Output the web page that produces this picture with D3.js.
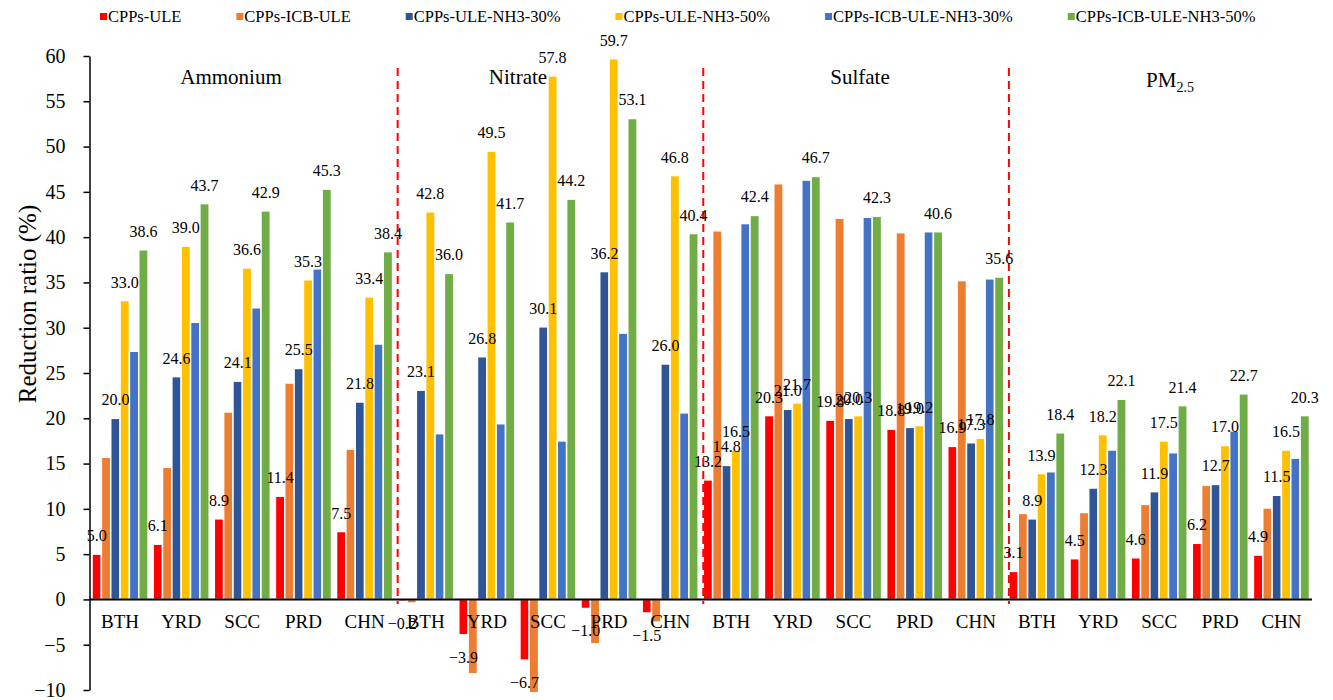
<!DOCTYPE html>
<html><head><meta charset="utf-8">
<script src="https://cdn.jsdelivr.net/npm/d3@7"></script>
<style>
body{margin:0;background:#fff}
svg{display:block}
</style>
</head><body>
<svg id="c" width="1333" height="700"></svg>
<script>
// ---------- data ----------
const regions = ["BTH","YRD","SCC","PRD","CHN"];
const species = ["Ammonium","Nitrate","Sulfate","PM2.5"];
const seriesNames = ["CPPs-ULE","CPPs-ICB-ULE","CPPs-ULE-NH3-30%","CPPs-ULE-NH3-50%","CPPs-ICB-ULE-NH3-30%","CPPs-ICB-ULE-NH3-50%"];
const seriesColors = ["#FF0000","#ED7D31","#2F5597","#FFC000","#4472C4","#70AD47"];
const labelledSeries = [0,2,3,5];
// values in order: Ammonium(BTH..CHN), Nitrate, Sulfate, PM2.5
const cppsULE        = [5.0,6.1,8.9,11.4,7.5,   -0.2,-3.9,-6.7,-1.0,-1.5,  13.2,20.3,19.8,18.8,16.9,  3.1,4.5,4.6,6.2,4.9];
const cppsICBULE     = [15.7,14.6,20.7,23.9,16.6, -0.4,-8.2,-10.3,-4.9,-2.5, 40.7,45.9,42.1,40.5,35.2, 9.5,9.6,10.5,12.6,10.1];
const ule_NH3_30     = [20.0,24.6,24.1,25.5,21.8, 23.1,26.8,30.1,36.2,26.0, 14.8,21.0,20.0,19.0,17.3, 8.9,12.3,11.9,12.7,11.5];
const ule_NH3_50     = [33.0,39.0,36.6,35.3,33.4, 42.8,49.5,57.8,59.7,46.8, 16.5,21.7,20.3,19.2,17.8, 13.9,18.2,17.5,17.0,16.5];
const icb_NH3_30     = [27.4,30.6,32.2,36.5,28.2, 18.3,19.4,17.5,29.4,20.6, 41.5,46.3,42.2,40.6,35.4, 14.1,16.5,16.2,18.6,15.6];
const icb_NH3_50     = [38.6,43.7,42.9,45.3,38.4, 36.0,41.7,44.2,53.1,40.4, 42.4,46.7,42.3,40.6,35.6, 18.4,22.1,21.4,22.7,20.3];
const seriesValues = [cppsULE,cppsICBULE,ule_NH3_30,ule_NH3_50,icb_NH3_30,icb_NH3_50];
const yTicks = d3.range(-10,61,5);
const yTitle = "Reduction ratio (%)";

// ---------- layout ----------
const FONT = "'Times New Roman','Liberation Serif',Tinos,serif";
const svg = d3.select("#c");
const xLeft = 89.5, xRight = 1312, yTop = 56, yBottom = 690;
const nCat = species.length*regions.length;
const catKeys = d3.range(nCat);
const xCat = d3.scaleBand().domain(catKeys).range([xLeft,xRight]).paddingInner(0.083).paddingOuter(0.0415);
const xSer = d3.scaleBand().domain(d3.range(seriesNames.length)).range([0,xCat.bandwidth()]);
const y = d3.scaleLinear().domain([-10,60]).range([yBottom,yTop]);

function txt(sel){ return sel.style("font-family",FONT).attr("fill","#000"); }

// bars
const barData = [];
seriesValues.forEach((vals,s)=>vals.forEach((v,c)=>barData.push({s,c,v})));
svg.append("g").selectAll("rect").data(barData).join("rect")
  .attr("x",d=>xCat(d.c)+xSer(d.s))
  .attr("width",xSer.bandwidth())
  .attr("y",d=>y(Math.max(0,d.v)))
  .attr("height",d=>Math.abs(y(d.v)-y(0)))
  .attr("fill",d=>seriesColors[d.s])
  .attr("stroke","#fff").attr("stroke-width",1.5);

// dashed dividers
svg.append("g").selectAll("line").data([1,2,3]).join("line")
  .attr("x1",k=>xCat(k*regions.length)).attr("x2",k=>xCat(k*regions.length))
  .attr("y1",68).attr("y2",604)
  .attr("stroke","#FF0000").attr("stroke-width",2).attr("stroke-dasharray","8,5");

// y axis
const yAxis = svg.append("g").attr("transform",`translate(${xLeft},0)`)
  .call(d3.axisLeft(y).tickValues(yTicks).tickSize(6).tickSizeOuter(0).tickPadding(18).tickFormat(d3.format("d")));
yAxis.attr("font-family",null).attr("font-size",null);
yAxis.select(".domain").attr("stroke","#000").attr("stroke-width",1.5);
yAxis.selectAll(".tick line").attr("stroke","#000").attr("stroke-width",1.5);
txt(yAxis.selectAll(".tick text")).attr("font-size",20);

// zero line
svg.append("line").attr("x1",xLeft).attr("x2",xRight).attr("y1",y(0)).attr("y2",y(0))
  .attr("stroke","#000").attr("stroke-width",2);

// category labels
txt(svg.append("g").selectAll("text").data(catKeys).join("text"))
  .attr("x",c=>xCat(c)+xCat.bandwidth()/2).attr("y",y(0)+29)
  .attr("text-anchor","middle").attr("font-size",19)
  .text(c=>regions[c%regions.length]);

// value labels
const fmt = d3.format(".1f");
txt(svg.append("g").selectAll("text").data(barData.filter(d=>labelledSeries.includes(d.s))).join("text"))
  .attr("x",d=>xCat(d.c)+xSer(d.s)+xSer.bandwidth()/2)
  .attr("y",d=>d.v>=0 ? y(d.v)-13 : y(d.v)+28)
  .attr("text-anchor","middle").attr("font-size",16)
  .text(d=>fmt(d.v));

// section titles
const titleX = [231,518,860,1170];
const titles = svg.append("g");
species.forEach((sp,i)=>{
  const t = txt(titles.append("text")).attr("x",titleX[i]).attr("y",i===3?87:84).attr("text-anchor","middle").attr("font-size",21);
  if(sp==="PM2.5"){
    t.append("tspan").text("PM");
    t.append("tspan").attr("font-size",14).attr("dy",5).text("2.5");
  } else t.text(sp);
});

// y title
txt(svg.append("text")).attr("transform","translate(36,304) rotate(-90)")
  .attr("text-anchor","middle").attr("font-size",25).text(yTitle);

// legend
const lg = svg.append("g");
let lx = 100;
seriesNames.forEach((n,i)=>{
  lg.append("rect").attr("x",lx).attr("y",13).attr("width",7).attr("height",7).attr("fill",seriesColors[i]);
  const t = txt(lg.append("text")).attr("x",lx+8).attr("y",22).attr("font-size",16.5).text(n);
  lx += 8 + t.node().getComputedTextLength() + 55;
});
</script>
</body></html>
